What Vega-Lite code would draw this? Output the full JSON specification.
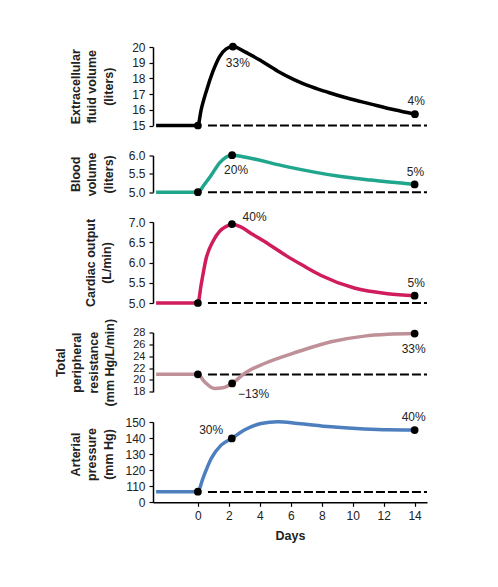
{
  "$schema": "https://vega.github.io/schema/vega-lite/v6.json",
  "background": "white",
  "padding": {"left": 53, "top": 39, "right": 5, "bottom": 5},
  "datasets": {
    "curve": [
      {"panel": "ecf", "day": -2.7, "value": 15},
      {"panel": "ecf", "day": 0, "value": 15},
      {"panel": "ecf", "day": 0.21, "value": 16.0},
      {"panel": "ecf", "day": 0.54, "value": 17.17},
      {"panel": "ecf", "day": 0.97, "value": 18.44},
      {"panel": "ecf", "day": 1.4, "value": 19.39},
      {"panel": "ecf", "day": 1.83, "value": 19.88},
      {"panel": "ecf", "day": 2.26, "value": 20.03},
      {"panel": "ecf", "day": 3.01, "value": 19.71},
      {"panel": "ecf", "day": 4.08, "value": 19.12},
      {"panel": "ecf", "day": 5.16, "value": 18.46},
      {"panel": "ecf", "day": 6.24, "value": 17.91},
      {"panel": "ecf", "day": 7.31, "value": 17.48},
      {"panel": "ecf", "day": 8.39, "value": 17.12},
      {"panel": "ecf", "day": 9.46, "value": 16.8},
      {"panel": "ecf", "day": 10.54, "value": 16.52},
      {"panel": "ecf", "day": 11.61, "value": 16.26},
      {"panel": "ecf", "day": 12.69, "value": 16.0},
      {"panel": "ecf", "day": 14.02, "value": 15.72},

      {"panel": "blood", "day": -2.7, "value": 5},
      {"panel": "blood", "day": 0, "value": 5},
      {"panel": "blood", "day": 0.4, "value": 5.2},
      {"panel": "blood", "day": 0.86, "value": 5.46},
      {"panel": "blood", "day": 1.4, "value": 5.8},
      {"panel": "blood", "day": 2.21, "value": 6.01},
      {"panel": "blood", "day": 3.0, "value": 5.96},
      {"panel": "blood", "day": 5.8, "value": 5.69},
      {"panel": "blood", "day": 9.03, "value": 5.44},
      {"panel": "blood", "day": 11.2, "value": 5.33},
      {"panel": "blood", "day": 14, "value": 5.21},

      {"panel": "co", "day": -2.7, "value": 5},
      {"panel": "co", "day": 0, "value": 5},
      {"panel": "co", "day": 0.21, "value": 5.45},
      {"panel": "co", "day": 0.54, "value": 6.11},
      {"panel": "co", "day": 0.97, "value": 6.52},
      {"panel": "co", "day": 1.4, "value": 6.77},
      {"panel": "co", "day": 1.83, "value": 6.89},
      {"panel": "co", "day": 2.2, "value": 6.95},
      {"panel": "co", "day": 2.69, "value": 6.89},
      {"panel": "co", "day": 3.55, "value": 6.69},
      {"panel": "co", "day": 4.62, "value": 6.44},
      {"panel": "co", "day": 5.7, "value": 6.17},
      {"panel": "co", "day": 6.77, "value": 5.93},
      {"panel": "co", "day": 7.96, "value": 5.68},
      {"panel": "co", "day": 10.1, "value": 5.37},
      {"panel": "co", "day": 12.26, "value": 5.23},
      {"panel": "co", "day": 14, "value": 5.18},

      {"panel": "tpr", "day": -2.7, "value": 20.95},
      {"panel": "tpr", "day": 0, "value": 20.95},
      {"panel": "tpr", "day": 0.43, "value": 19.69},
      {"panel": "tpr", "day": 1.08, "value": 18.56},
      {"panel": "tpr", "day": 1.61, "value": 18.67},
      {"panel": "tpr", "day": 2.21, "value": 19.4},
      {"panel": "tpr", "day": 3.0, "value": 21.09},
      {"panel": "tpr", "day": 4.3, "value": 22.77},
      {"panel": "tpr", "day": 6.45, "value": 24.75},
      {"panel": "tpr", "day": 8.6, "value": 26.43},
      {"panel": "tpr", "day": 10.75, "value": 27.39},
      {"panel": "tpr", "day": 12.26, "value": 27.7},
      {"panel": "tpr", "day": 14, "value": 27.83},

      {"panel": "ap", "day": -2.7, "value": 106.6},
      {"panel": "ap", "day": 0, "value": 106.6},
      {"panel": "ap", "day": 0.32, "value": 114.8},
      {"panel": "ap", "day": 0.86, "value": 127.3},
      {"panel": "ap", "day": 1.5, "value": 135.6},
      {"panel": "ap", "day": 2.19, "value": 139.8},
      {"panel": "ap", "day": 3.0, "value": 145},
      {"panel": "ap", "day": 4.08, "value": 149.1},
      {"panel": "ap", "day": 5.16, "value": 150.2},
      {"panel": "ap", "day": 6.45, "value": 149.1},
      {"panel": "ap", "day": 8.6, "value": 147},
      {"panel": "ap", "day": 10.75, "value": 145.6},
      {"panel": "ap", "day": 12.26, "value": 145.1},
      {"panel": "ap", "day": 14, "value": 145}
    ],
    "dots": [
      {"panel": "ecf", "day": 0, "value": 15},
      {"panel": "ecf", "day": 2.26, "value": 20.03},
      {"panel": "ecf", "day": 14.02, "value": 15.72},
      {"panel": "blood", "day": 0, "value": 5},
      {"panel": "blood", "day": 2.21, "value": 6.01},
      {"panel": "blood", "day": 14, "value": 5.21},
      {"panel": "co", "day": 0, "value": 5},
      {"panel": "co", "day": 2.2, "value": 6.95},
      {"panel": "co", "day": 14, "value": 5.18},
      {"panel": "tpr", "day": 0, "value": 20.95},
      {"panel": "tpr", "day": 2.21, "value": 19.4},
      {"panel": "tpr", "day": 14, "value": 27.83},
      {"panel": "ap", "day": 0, "value": 106.6},
      {"panel": "ap", "day": 2.19, "value": 139.8},
      {"panel": "ap", "day": 14, "value": 145}
    ],
    "labels": [
      {"panel": "ecf", "day": 2.58, "value": 18.97, "label": "33%"},
      {"panel": "ecf", "day": 14.1, "value": 16.55, "label": "4%"},
      {"panel": "blood", "day": 2.47, "value": 5.6, "label": "20%"},
      {"panel": "blood", "day": 14.05, "value": 5.54, "label": "5%"},
      {"panel": "co", "day": 3.66, "value": 7.12, "label": "40%"},
      {"panel": "co", "day": 14.1, "value": 5.49, "label": "5%"},
      {"panel": "tpr", "day": 13.94, "value": 25.3, "label": "33%"},
      {"panel": "tpr", "day": 3.6, "value": 17.7, "label": "−13%"},
      {"panel": "ap", "day": 0.86, "value": 145, "label": "30%"},
      {"panel": "ap", "day": 13.94, "value": 153.3, "label": "40%"}
    ],
    "base": [
      {"panel": "ecf", "day": 0.65, "day2": 14.8, "value": 15},
      {"panel": "blood", "day": 0.65, "day2": 14.8, "value": 5},
      {"panel": "co", "day": 0.65, "day2": 14.8, "value": 5},
      {"panel": "tpr", "day": 0.65, "day2": 14.8, "value": 20.92},
      {"panel": "ap", "day": 0.65, "day2": 14.8, "value": 106.4}
    ]
  },
  "vconcat": [
    {
      "width": 274, "height": 78.5,
      "encoding": {
        "x": {"field": "day", "type": "quantitative", "scale": {"domain": [-2.9, 14.8], "nice": false, "zero": false}, "axis": null},
        "y": {"field": "value", "type": "quantitative", "scale": {"domain": [15, 20], "nice": false, "zero": false},
              "axis": {"values": [15, 16, 17, 18, 19, 20], "title": ["Extracellular", "fluid volume", "(liters)"], "titleX": -71}}
      },
      "layer": [
        {"data": {"name": "base"}, "transform": [{"filter": "datum.panel == 'ecf'"}], "mark": {"type": "rule", "strokeDash": [9, 3], "strokeWidth": 2, "color": "black"}, "encoding": {"x2": {"field": "day2"}}},
        {"data": {"name": "curve"}, "transform": [{"filter": "datum.panel == 'ecf'"}], "mark": {"type": "line", "interpolate": "monotone", "strokeWidth": 3.5, "color": "#000000"}},
        {"data": {"name": "dots"}, "transform": [{"filter": "datum.panel == 'ecf'"}], "mark": {"type": "circle", "size": 60, "color": "black", "opacity": 1}},
        {"data": {"name": "labels"}, "transform": [{"filter": "datum.panel == 'ecf'"}], "mark": {"type": "text", "fontSize": 12, "font": "Liberation Sans", "color": "#222"}, "encoding": {"text": {"field": "label"}}}
      ]
    },
    {
      "width": 274, "height": 36.7,
      "encoding": {
        "x": {"field": "day", "type": "quantitative", "scale": {"domain": [-2.9, 14.8], "nice": false, "zero": false}, "axis": null},
        "y": {"field": "value", "type": "quantitative", "scale": {"domain": [5, 6], "nice": false, "zero": false},
              "axis": {"values": [5, 5.5, 6], "format": ".1f", "title": ["Blood", "volume", "(liters)"], "titleX": -71}}
      },
      "layer": [
        {"data": {"name": "base"}, "transform": [{"filter": "datum.panel == 'blood'"}], "mark": {"type": "rule", "strokeDash": [9, 3], "strokeWidth": 2, "color": "black"}, "encoding": {"x2": {"field": "day2"}}},
        {"data": {"name": "curve"}, "transform": [{"filter": "datum.panel == 'blood'"}], "mark": {"type": "line", "interpolate": "monotone", "strokeWidth": 3.5, "color": "#1fa68c"}},
        {"data": {"name": "dots"}, "transform": [{"filter": "datum.panel == 'blood'"}], "mark": {"type": "circle", "size": 60, "color": "black", "opacity": 1}},
        {"data": {"name": "labels"}, "transform": [{"filter": "datum.panel == 'blood'"}], "mark": {"type": "text", "fontSize": 12, "font": "Liberation Sans", "color": "#222"}, "encoding": {"text": {"field": "label"}}}
      ]
    },
    {
      "width": 274, "height": 81,
      "encoding": {
        "x": {"field": "day", "type": "quantitative", "scale": {"domain": [-2.9, 14.8], "nice": false, "zero": false}, "axis": null},
        "y": {"field": "value", "type": "quantitative", "scale": {"domain": [5, 7], "nice": false, "zero": false},
              "axis": {"values": [5, 5.5, 6, 6.5, 7], "format": ".1f", "title": ["Cardiac output", "(L/min)"], "titleX": -56}}
      },
      "layer": [
        {"data": {"name": "base"}, "transform": [{"filter": "datum.panel == 'co'"}], "mark": {"type": "rule", "strokeDash": [9, 3], "strokeWidth": 2, "color": "black"}, "encoding": {"x2": {"field": "day2"}}},
        {"data": {"name": "curve"}, "transform": [{"filter": "datum.panel == 'co'"}], "mark": {"type": "line", "interpolate": "monotone", "strokeWidth": 3.5, "color": "#d01c5c"}},
        {"data": {"name": "dots"}, "transform": [{"filter": "datum.panel == 'co'"}], "mark": {"type": "circle", "size": 60, "color": "black", "opacity": 1}},
        {"data": {"name": "labels"}, "transform": [{"filter": "datum.panel == 'co'"}], "mark": {"type": "text", "fontSize": 12, "font": "Liberation Sans", "color": "#222"}, "encoding": {"text": {"field": "label"}}}
      ]
    },
    {
      "width": 274, "height": 59.3,
      "encoding": {
        "x": {"field": "day", "type": "quantitative", "scale": {"domain": [-2.9, 14.8], "nice": false, "zero": false}, "axis": null},
        "y": {"field": "value", "type": "quantitative", "scale": {"domain": [18, 28], "nice": false, "zero": false},
              "axis": {"values": [18, 20, 22, 24, 26, 28], "labelFontSize": 11, "title": ["Total", "peripheral", "resistance", "(mm Hg/L/min)"], "titleX": -86}}
      },
      "layer": [
        {"data": {"name": "base"}, "transform": [{"filter": "datum.panel == 'tpr'"}], "mark": {"type": "rule", "strokeDash": [9, 3], "strokeWidth": 2, "color": "black"}, "encoding": {"x2": {"field": "day2"}}},
        {"data": {"name": "curve"}, "transform": [{"filter": "datum.panel == 'tpr'"}], "mark": {"type": "line", "interpolate": "monotone", "strokeWidth": 3.5, "color": "#bf9097"}},
        {"data": {"name": "dots"}, "transform": [{"filter": "datum.panel == 'tpr'"}], "mark": {"type": "circle", "size": 60, "color": "black", "opacity": 1}},
        {"data": {"name": "labels"}, "transform": [{"filter": "datum.panel == 'tpr'"}], "mark": {"type": "text", "fontSize": 12, "font": "Liberation Sans", "color": "#222"}, "encoding": {"text": {"field": "label"}}}
      ]
    },
    {
      "width": 274, "height": 80.3,
      "encoding": {
        "x": {"field": "day", "type": "quantitative", "scale": {"domain": [-2.9, 14.8], "nice": false, "zero": false},
              "axis": {"values": [0, 2, 4, 6, 8, 10, 12, 14], "title": "Days", "labelPadding": 4, "titlePadding": 8}},
        "y": {"field": "value", "type": "quantitative", "scale": {"domain": [100, 150], "nice": false, "zero": false},
              "axis": {"values": [100, 110, 120, 130, 140, 150], "labelExpr": "datum.value == 100 ? '0' : datum.label", "title": ["Arterial", "pressure", "(mm Hg)"], "titleX": -71, "titleY": 32}}
      },
      "layer": [
        {"data": {"name": "base"}, "transform": [{"filter": "datum.panel == 'ap'"}], "mark": {"type": "rule", "strokeDash": [9, 3], "strokeWidth": 2, "color": "black"}, "encoding": {"x2": {"field": "day2"}}},
        {"data": {"name": "curve"}, "transform": [{"filter": "datum.panel == 'ap'"}], "mark": {"type": "line", "interpolate": "monotone", "strokeWidth": 3.5, "color": "#4d7fbf"}},
        {"data": {"name": "dots"}, "transform": [{"filter": "datum.panel == 'ap'"}], "mark": {"type": "circle", "size": 60, "color": "black", "opacity": 1}},
        {"data": {"name": "labels"}, "transform": [{"filter": "datum.panel == 'ap'"}], "mark": {"type": "text", "fontSize": 12, "font": "Liberation Sans", "color": "#222"}, "encoding": {"text": {"field": "label"}}}
      ]
    }
  ],
  "spacing": 29.5,
  "bounds": "flush",
  "resolve": {"scale": {"x": "independent", "y": "independent"}},
  "config": {
    "view": {"stroke": null},
    "axis": {
      "grid": false,
      "domainColor": "black",
      "domainWidth": 1.5,
      "tickColor": "black",
      "tickWidth": 1.2,
      "tickSize": 4,
      "labelFont": "Liberation Sans",
      "labelFontSize": 12,
      "labelColor": "#222",
      "labelPadding": 4,
      "labelOverlap": false,
      "titleFont": "Liberation Sans",
      "titleFontSize": 12.5,
      "titleFontWeight": "bold",
      "titleColor": "#222"
    },
    "axisY": {
      "titleBaseline": "bottom",
      "titleLineHeight": 16.5
    }
  }
}
